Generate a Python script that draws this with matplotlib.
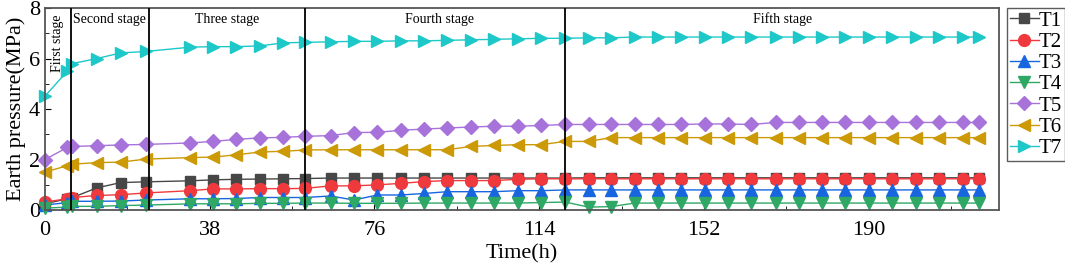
import matplotlib
matplotlib.use('Agg')
import matplotlib.pyplot as plt
from matplotlib.ticker import MultipleLocator

plt.rcParams['font.family'] = ['Liberation Serif', 'DejaVu Serif']

# time (h)
time = [0, 5.2, 6.4, 12, 17.5, 23.3, 33.6, 38.8, 44.2, 49.6, 55, 60,
        65.9, 71.3, 76.7, 82.1, 87.5, 92.8, 98.2, 103.6, 109, 114.4, 120,
        125.4, 130.6, 136, 141.4, 146.8, 152.2, 157.6, 162.9, 168.5, 173.8,
        179.2, 184.6, 190, 195.4, 200.8, 206.2, 211.6, 215.5]

T1 = [0.25, 0.45, 0.5, 0.88, 1.09, 1.12, 1.16, 1.2, 1.22, 1.23, 1.24, 1.25,
      1.27, 1.27, 1.27, 1.27, 1.27, 1.27, 1.27, 1.27, 1.27, 1.27, 1.27,
      1.28, 1.28, 1.28, 1.28, 1.28, 1.28, 1.28, 1.28, 1.28, 1.28,
      1.28, 1.28, 1.28, 1.28, 1.28, 1.28, 1.28, 1.28]
T2 = [0.32, 0.45, 0.5, 0.58, 0.61, 0.68, 0.77, 0.84, 0.84, 0.85, 0.85, 0.86,
      0.96, 0.96, 1.0, 1.06, 1.13, 1.17, 1.17, 1.17, 1.22, 1.24, 1.24,
      1.24, 1.24, 1.24, 1.24, 1.24, 1.24, 1.24, 1.24, 1.24, 1.24,
      1.24, 1.24, 1.24, 1.24, 1.24, 1.24, 1.24, 1.24]
T3 = [0.2, 0.3, 0.35, 0.35, 0.36, 0.4, 0.45, 0.45, 0.46, 0.5, 0.5, 0.5,
      0.56, 0.4, 0.6, 0.6, 0.66, 0.73, 0.73, 0.73, 0.77, 0.77, 0.8,
      0.8, 0.8, 0.8, 0.8, 0.8, 0.8, 0.8, 0.8, 0.8, 0.8,
      0.8, 0.8, 0.8, 0.8, 0.8, 0.8, 0.8, 0.8]
T4 = [0.08, 0.12, 0.15, 0.15, 0.18, 0.2, 0.25, 0.25, 0.25, 0.27, 0.27, 0.28,
      0.28, 0.27, 0.27, 0.27, 0.28, 0.28, 0.28, 0.28, 0.28, 0.3, 0.32,
      0.12, 0.14, 0.28, 0.28, 0.28, 0.28, 0.28, 0.28, 0.28, 0.28,
      0.28, 0.28, 0.28, 0.28, 0.28, 0.28, 0.28, 0.28]
T5 = [2.0, 2.48, 2.52, 2.55, 2.58, 2.6, 2.66, 2.72, 2.8, 2.86, 2.88, 2.92,
      2.95, 3.07, 3.08, 3.16, 3.21, 3.25, 3.29, 3.32, 3.32, 3.35, 3.39,
      3.39, 3.39, 3.39, 3.39, 3.39, 3.41, 3.41, 3.39, 3.47, 3.47,
      3.47, 3.47, 3.47, 3.47, 3.47, 3.47, 3.47, 3.47]
T6 = [1.5, 1.76, 1.82, 1.88, 1.9, 2.02, 2.08, 2.1, 2.19, 2.3, 2.33, 2.38,
      2.39, 2.39, 2.39, 2.39, 2.39, 2.39, 2.52, 2.56, 2.59, 2.59, 2.72,
      2.72, 2.87, 2.87, 2.87, 2.87, 2.87, 2.87, 2.87, 2.87, 2.87,
      2.87, 2.87, 2.87, 2.87, 2.87, 2.87, 2.87, 2.87]
T7 = [4.5, 5.5, 5.8, 6.0, 6.22, 6.28, 6.45, 6.47, 6.47, 6.5, 6.62, 6.64,
      6.66, 6.68, 6.68, 6.7, 6.7, 6.72, 6.74, 6.76, 6.78, 6.8, 6.8,
      6.82, 6.82, 6.85, 6.85, 6.85, 6.85, 6.85, 6.85, 6.85, 6.85,
      6.85, 6.85, 6.85, 6.85, 6.85, 6.85, 6.85, 6.85]

stage_bounds = [6, 24, 60, 120]
stage_names = ['Second stage', 'Three stage', 'Fourth stage', 'Fifth stage']
stage_centers = [15, 42, 91, 170]

series = [
    ('T1', T1, '#474747', 's'),
    ('T2', T2, '#f0393c', 'o'),
    ('T3', T3, '#1766e0', '^'),
    ('T4', T4, '#2ea864', 'v'),
    ('T5', T5, '#a872db', 'D'),
    ('T6', T6, '#cc9a06', '<'),
    ('T7', T7, '#1ec8c8', '>'),
]

fig = plt.figure(figsize=(10.65, 2.66), dpi=100)
ax = fig.add_axes([0.042, 0.21, 0.896, 0.76])

for name, y, c, m in series:
    ms = 7.5 if m in ('s', 'D') else 8.5
    ax.plot(time, y, color=c, marker=m, markersize=ms, linewidth=1.0,
            label=name, clip_on=False)

for b in stage_bounds:
    ax.axvline(b, color='black', linewidth=1.3, zorder=5)

for name, xc in zip(stage_names, stage_centers):
    ax.text(xc, 7.55, name, ha='center', va='center', fontsize=10)
ax.text(3.0, 6.6, 'First stage', rotation=90, ha='center', va='center', fontsize=10)

ax.set_xlim(0, 220)
ax.set_ylim(0, 8)
ax.xaxis.set_major_locator(MultipleLocator(38))
ax.xaxis.set_minor_locator(MultipleLocator(19))
ax.yaxis.set_major_locator(MultipleLocator(2))
ax.yaxis.set_minor_locator(MultipleLocator(1))
ax.tick_params(which='both', direction='in', labelsize=16)
ax.tick_params(axis='x', pad=8)
ax.tick_params(which='major', length=4)
ax.tick_params(which='minor', length=3)
for sp in ax.spines.values():
    sp.set_color('#555555')
    sp.set_linewidth(1.3)

ax.set_xlabel('Time(h)', fontsize=16, labelpad=3)
ax.set_ylabel('Earth pressure(MPa)', fontsize=16, labelpad=2)

leg = ax.legend(loc='upper left', bbox_to_anchor=(1.008, 1.0), fontsize=15,
                frameon=True, fancybox=False, edgecolor='#333333',
                labelspacing=0.08, handlelength=1.4, handletextpad=0.0,
                borderpad=0.15, borderaxespad=0.0, markerscale=1.0)
leg.get_frame().set_linewidth(1.0)

plt.savefig('out.png', dpi=100)
plt.close()
